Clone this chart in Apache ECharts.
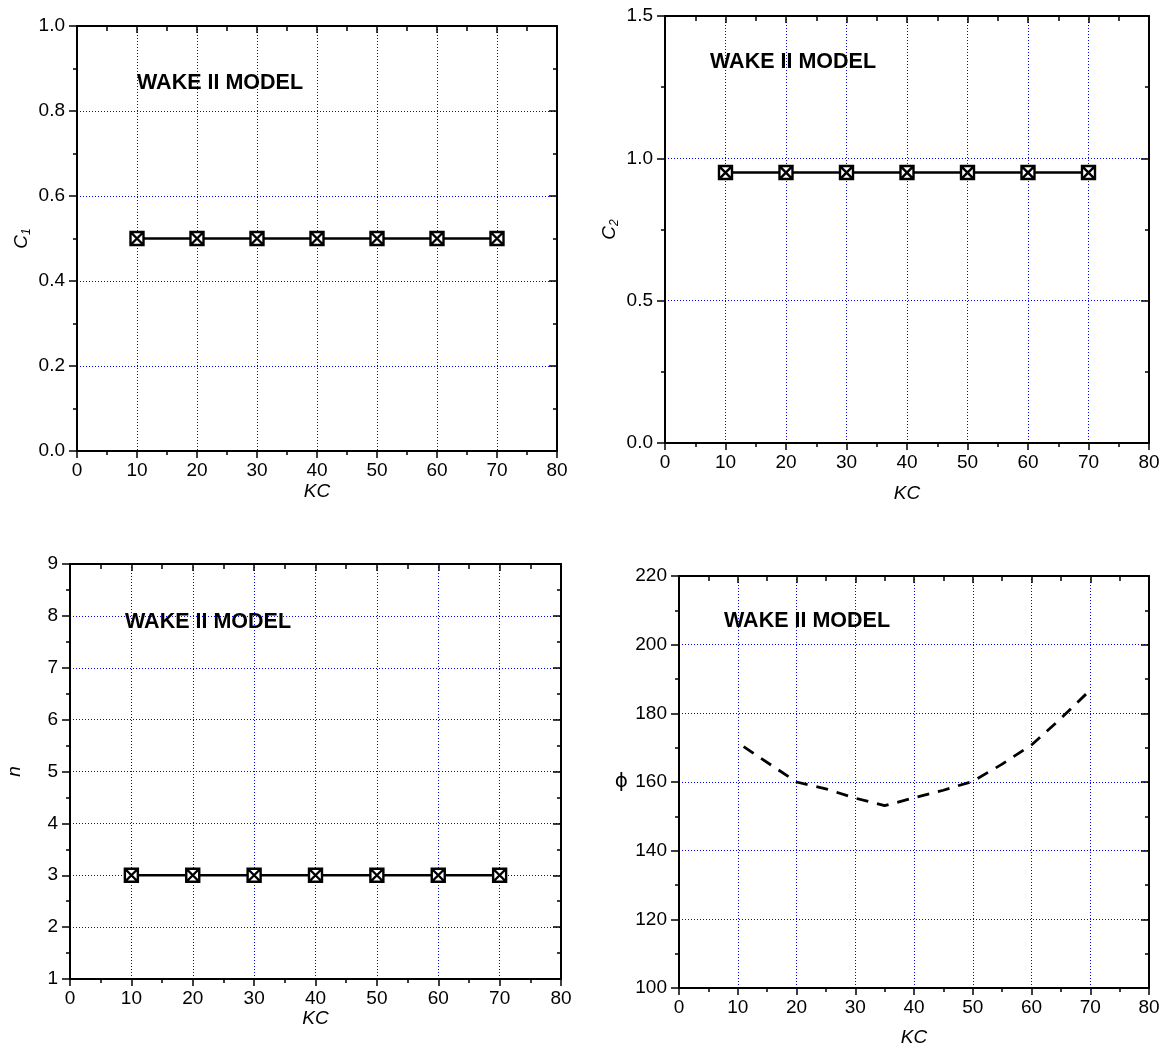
<!DOCTYPE html>
<html>
<head>
<meta charset="utf-8">
<title>WAKE II MODEL coefficients</title>
<script src="https://cdn.jsdelivr.net/npm/echarts@6/dist/echarts.min.js"></script>
<style>
  html, body { margin: 0; padding: 0; background: #fff; }
  #chart { width: 1163px; height: 1048px; }
</style>
</head>
<body>
<div id="chart"></div>
<script>
// Keulegan-Carpenter numbers where the coefficients are tabulated
const kcPoints = [10, 20, 30, 40, 50, 60, 70];
const c1Values = [0.5, 0.5, 0.5, 0.5, 0.5, 0.5, 0.5];
const c2Values = [0.95, 0.95, 0.95, 0.95, 0.95, 0.95, 0.95];
const nValues = [3, 3, 3, 3, 3, 3, 3];

// Phase angle curve
const phiKC = [11, 20, 25, 30, 35, 40, 45, 50, 55, 60, 65, 70];
const phiValues = [170.3, 160, 158, 155.3, 153.1, 155.4, 157.6, 160.2, 165.2, 170.8, 178.5, 186.8];

// Tick labels
const kcTicks = [0, 10, 20, 30, 40, 50, 60, 70, 80];
const c1Ticks = ['0.0', '0.2', '0.4', '0.6', '0.8', '1.0'];
const c2Ticks = ['0.0', '0.5', '1.0', '1.5'];
const nTicks = ['1', '2', '3', '4', '5', '6', '7', '8', '9'];
const phiTicks = ['100', '120', '140', '160', '180', '200', '220'];

const modelLabel = 'WAKE II MODEL';

const FONT = '"Liberation Sans", Arial, Helvetica, sans-serif';
const GRID_BLUE = '#0000ff';
const LABEL_SIZE = 19;

function pairs(xs, ys) { return xs.map((x, i) => [x, ys[i]]); }

const panels = [
  { grid: { left: 77, top: 26, width: 480, height: 425 },
    y: { min: 0, max: 1, interval: 0.2, ticks: c1Ticks },
    yName: '{c|C}{s|1}', yNameGap: 44, yRotate: 90,
    xNameGap: 31,
    title: { x: 137, y: 83 } },
  { grid: { left: 665, top: 16, width: 484, height: 427 },
    y: { min: 0, max: 1.5, interval: 0.5, ticks: c2Ticks },
    yName: '{c|C}{s|2}', yNameGap: 44, yRotate: 90,
    xNameGap: 41,
    title: { x: 710, y: 62 } },
  { grid: { left: 70, top: 564, width: 491, height: 415 },
    y: { min: 1, max: 9, interval: 1, ticks: nTicks },
    yName: '{c|n}', yNameGap: 44, yRotate: 90,
    xNameGap: 29,
    title: { x: 125, y: 622 } },
  { grid: { left: 679, top: 576, width: 470, height: 412 },
    y: { min: 100, max: 220, interval: 20, ticks: phiTicks },
    yName: '{p|ϕ}', yNameGap: 51, yRotate: 0,
    xNameGap: 40,
    title: { x: 724, y: 621 } }
];

const grids = [];
const xAxes = [];
const yAxes = [];
const graphics = [];

const frameLine = { show: true, onZero: false, lineStyle: { color: '#000', width: 2 } };
const splitDotted = { show: true, lineStyle: { color: GRID_BLUE, width: 1, type: [1, 2] } };

panels.forEach((p, gi) => {
  grids.push(Object.assign({ containLabel: false }, p.grid));

  // bottom axis with labels and name
  xAxes.push({
    gridIndex: gi, type: 'value', position: 'bottom',
    min: kcTicks[0], max: kcTicks[kcTicks.length - 1], interval: 10,
    axisLine: frameLine,
    axisTick: { show: true, inside: false, length: 7, lineStyle: { color: '#000', width: 1.5 } },
    minorTick: { show: true, splitNumber: 2, length: 4, lineStyle: { color: '#000', width: 1.5 } },
    axisLabel: { show: true, margin: 10, color: '#000', fontSize: LABEL_SIZE, fontFamily: FONT,
      formatter: v => String(Math.round(v)) },
    splitLine: splitDotted,
    name: 'KC', nameLocation: 'middle', nameGap: p.xNameGap,
    nameTextStyle: { color: '#000', fontSize: 19, fontStyle: 'italic', fontFamily: FONT }
  });
  // mirrored top axis
  xAxes.push({
    gridIndex: gi, type: 'value', position: 'top',
    min: kcTicks[0], max: kcTicks[kcTicks.length - 1], interval: 10,
    axisLine: frameLine,
    axisTick: { show: true, inside: true, length: 7, lineStyle: { color: '#000', width: 1.5 } },
    minorTick: { show: true, splitNumber: 2, length: 5, lineStyle: { color: '#000', width: 1.5 } },
    axisLabel: { show: false },
    splitLine: { show: false }
  });

  const yt = p.y.ticks;
  // left axis with labels and name
  yAxes.push({
    gridIndex: gi, type: 'value', position: 'left',
    min: p.y.min, max: p.y.max, interval: p.y.interval,
    axisLine: frameLine,
    axisTick: { show: true, inside: false, length: 8, lineStyle: { color: '#000', width: 1.5 } },
    minorTick: { show: true, splitNumber: 2, length: 4, lineStyle: { color: '#000', width: 1.5 } },
    axisLabel: { show: true, margin: 12, color: '#000', fontSize: LABEL_SIZE, fontFamily: FONT,
      formatter: v => yt[Math.round((v - p.y.min) / p.y.interval)] },
    splitLine: splitDotted,
    name: p.yName, nameLocation: 'middle', nameGap: p.yNameGap, nameRotate: p.yRotate,
    nameTextStyle: {
      color: '#000', fontFamily: FONT,
      rich: {
        c: { fontSize: 19, fontStyle: 'italic', fontFamily: FONT, color: '#000', lineHeight: 22, verticalAlign: 'middle' },
        s: { fontSize: 12, fontStyle: 'italic', fontFamily: FONT, color: '#000', lineHeight: 22, verticalAlign: 'bottom' },
        p: { fontSize: 20, fontFamily: '"DejaVu Sans", ' + FONT, color: '#000', lineHeight: 22 }
      }
    }
  });
  // mirrored right axis
  yAxes.push({
    gridIndex: gi, type: 'value', position: 'right',
    min: p.y.min, max: p.y.max, interval: p.y.interval,
    axisLine: frameLine,
    axisTick: { show: true, inside: true, length: 8, lineStyle: { color: '#000', width: 1.5 } },
    minorTick: { show: true, splitNumber: 2, length: 4, lineStyle: { color: '#000', width: 1.5 } },
    axisLabel: { show: false },
    splitLine: { show: false }
  });

  graphics.push({
    type: 'text', x: p.title.x, y: p.title.y, z: 100,
    style: { text: modelLabel, fill: '#000', font: 'bold 21.5px ' + FONT, verticalAlign: 'middle', align: 'left' }
  });
});

// boxed cross marker
const boxCross = 'path://M0,0L10,0L10,10L0,10ZM0,0L10,10M10,0L0,10';

function markedLine(gi, ys) {
  return {
    type: 'line', xAxisIndex: gi * 2, yAxisIndex: gi * 2,
    data: pairs(kcPoints, ys),
    symbol: boxCross, symbolSize: 13, showAllSymbol: true,
    itemStyle: { color: '#fff', borderColor: '#000', borderWidth: 2.4 },
    lineStyle: { color: '#000', width: 2.4 },
    emphasis: { disabled: true },
    z: 3
  };
}

const series = [
  markedLine(0, c1Values),
  markedLine(1, c2Values),
  markedLine(2, nValues),
  {
    type: 'line', xAxisIndex: 6, yAxisIndex: 6,
    data: pairs(phiKC, phiValues),
    symbol: 'none',
    lineStyle: { color: '#000', width: 2.8, type: [12, 9] },
    emphasis: { disabled: true },
    z: 3
  }
];

const chart = echarts.init(document.getElementById('chart'), null, { renderer: 'canvas' });
chart.setOption({
  backgroundColor: '#fff',
  animation: false,
  textStyle: { fontFamily: FONT },
  grid: grids,
  xAxis: xAxes,
  yAxis: yAxes,
  series: series,
  graphic: graphics
});
</script>
</body>
</html>
